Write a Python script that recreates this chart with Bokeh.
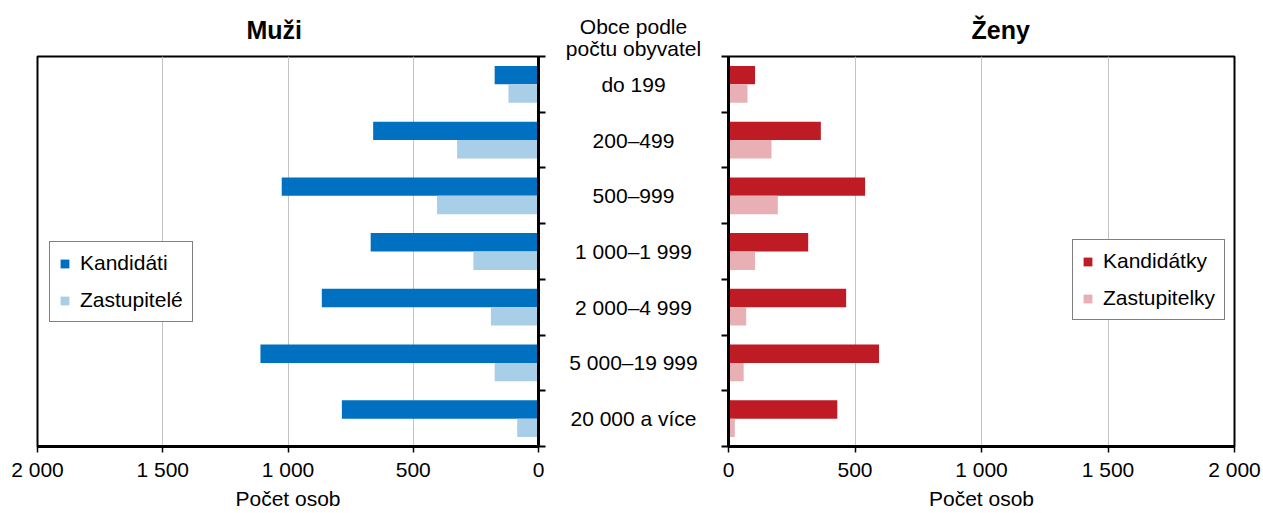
from bokeh.plotting import figure
from bokeh.models import Range1d, FixedTicker, Legend, LegendItem, Title
from bokeh.layouts import row
from bokeh.embed import file_html
from bokeh.resources import INLINE
from bokeh.core.properties import value

# ---- data ----
categories = ["do 199", "200–499", "500–999", "1 000–1 999",
              "2 000–4 999", "5 000–19 999", "20 000 a více"]
kandidati = [175, 660, 1025, 670, 865, 1110, 785]
zastupitele = [120, 325, 405, 260, 190, 175, 85]
kandidatky = [105, 365, 540, 315, 465, 595, 430]
zastupitelky = [75, 170, 195, 105, 70, 60, 25]
x_ticks = [0, 500, 1000, 1500, 2000]
x_tick_labels = ["0", "500", "1 000", "1 500", "2 000"]
header = ["Obce podle", "počtu obyvatel"]

FONT = "Liberation Sans"
FS = "21px"
n = len(categories)
ypos = [n - 1 - i for i in range(n)]
BAR_H = 0.33
OFF = 0.165
H = 513
TOP, BOTTOM = 56, 67

C_BLUE = "#0070C0"
C_LBLUE = "#A9CEE8"
C_RED = "#BE1B24"
C_PINK = "#E8B0B4"

y_bound_ticks = [k - 0.5 for k in range(n + 1)]


def style(p):
    p.outline_line_color = "black"
    p.outline_line_width = 2
    p.background_fill_color = "white"
    p.border_fill_color = "white"
    p.ygrid.visible = False
    p.xgrid.ticker = FixedTicker(ticks=x_ticks)
    p.xgrid.grid_line_color = "#C4C4C4"
    p.xgrid.grid_line_width = 1
    xa = p.xaxis[0]
    xa.ticker = FixedTicker(ticks=x_ticks)
    xa.major_label_overrides = {t: l for t, l in zip(x_ticks, x_tick_labels)}
    xa.major_label_text_font = FONT
    xa.major_label_text_font_size = FS
    xa.major_label_text_color = "black"
    xa.major_tick_out = 6
    xa.major_tick_in = 0
    xa.major_tick_line_width = 1.5
    xa.minor_tick_line_color = None
    xa.axis_line_width = 3
    xa.major_label_standoff = 5
    xa.axis_label = "Počet osob"
    xa.axis_label_text_font = FONT
    xa.axis_label_text_font_size = FS
    xa.axis_label_text_font_style = "normal"
    xa.axis_label_text_color = "black"
    xa.axis_label_standoff = 3
    ya = p.yaxis[0]
    ya.ticker = FixedTicker(ticks=y_bound_ticks)
    ya.major_label_overrides = {t: "" for t in y_bound_ticks}
    ya.major_label_standoff = 0
    ya.major_tick_out = 7
    ya.major_tick_in = 0
    ya.major_tick_line_width = 2
    ya.minor_tick_line_color = None
    ya.axis_line_width = 3
    p.title.text_font = FONT
    p.title.text_font_size = "25px"
    p.title.text_font_style = "bold"
    p.title.text_color = "black"
    p.title.align = "left"
    p.title.standoff = 26


def legend(p, items, loc):
    lg = Legend(items=items, location=loc)
    lg.glyph_width = 11
    lg.glyph_height = 11
    lg.label_standoff = 10
    lg.padding = 9
    lg.spacing = 13
    lg.label_height = 21
    lg.label_text_font = FONT
    lg.label_text_font_size = FS
    lg.label_text_color = "black"
    lg.border_line_color = "black"
    lg.border_line_width = 1.5
    lg.background_fill_color = "white"
    lg.background_fill_alpha = 1
    lg.margin = 0
    p.add_layout(lg)


# ---- left: men ----
p1 = figure(width=550, height=H, x_range=Range1d(2000, 0),
            y_range=Range1d(-0.5, n - 0.5), output_backend="svg",
            toolbar_location=None, y_axis_location="right",
            min_border_left=37, min_border_right=12,
            min_border_top=TOP, min_border_bottom=BOTTOM, title="Muži")
style(p1)
p1.title.offset = 209
r1 = p1.hbar(y=[y + OFF for y in ypos], left=0, right=kandidati,
             height=BAR_H, fill_color=C_BLUE, line_color=None)
r2 = p1.hbar(y=[y - OFF for y in ypos], left=0, right=zastupitele,
             height=BAR_H, fill_color=C_LBLUE, line_color=None)
legend(p1, [LegendItem(label="Kandidáti", renderers=[r1]),
            LegendItem(label="Zastupitelé", renderers=[r2])], (12, 124))

# ---- middle: category labels ----
pm = figure(width=166, height=H, x_range=Range1d(0, 1),
            y_range=Range1d(-0.5, n - 0.5), output_backend="svg",
            toolbar_location=None, x_axis_location=None, y_axis_location=None,
            min_border_left=0, min_border_right=0, min_border_top=TOP,
            min_border_bottom=BOTTOM)
pm.outline_line_color = None
pm.grid.visible = False
pm.text(x=[0.5] * n, y=ypos, text=categories, text_align="center",
        text_baseline="middle", text_font=value(FONT), text_font_size=FS,
        text_color="black")
for txt, so in zip(reversed(header), [-6, 0]):
    pm.add_layout(Title(text=txt, align="center", text_font=FONT,
                        text_font_size=FS, text_font_style="normal",
                        text_color="black", standoff=so), "above")

# ---- right: women ----
p2 = figure(width=547, height=H, x_range=Range1d(0, 2000),
            y_range=Range1d(-0.5, n - 0.5), output_backend="svg",
            toolbar_location=None, y_axis_location="left",
            min_border_left=12, min_border_right=29,
            min_border_top=TOP, min_border_bottom=BOTTOM, title="Ženy")
style(p2)
p2.title.offset = 243
r3 = p2.hbar(y=[y + OFF for y in ypos], left=0, right=kandidatky,
             height=BAR_H, fill_color=C_RED, line_color=None)
r4 = p2.hbar(y=[y - OFF for y in ypos], left=0, right=zastupitelky,
             height=BAR_H, fill_color=C_PINK, line_color=None)
legend(p2, [LegendItem(label="Kandidátky", renderers=[r3]),
            LegendItem(label="Zastupitelky", renderers=[r4])], (344, 126))

layout = row(p1, pm, p2)
open("out.html", "w").write(file_html(layout, INLINE))
